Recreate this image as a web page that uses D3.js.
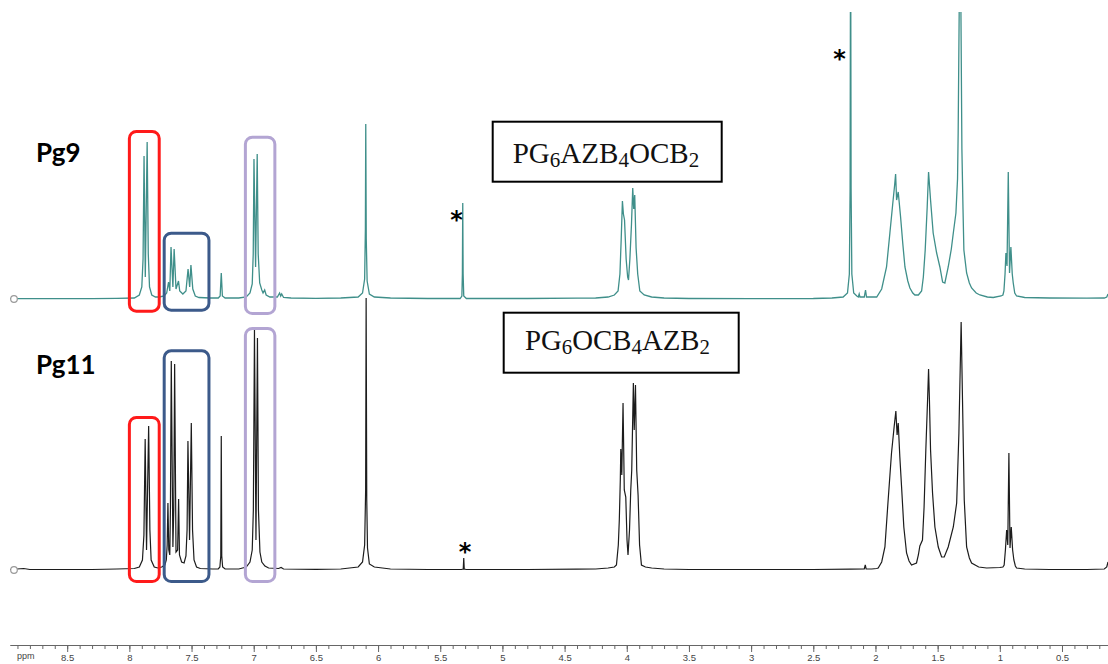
<!DOCTYPE html>
<html><head><meta charset="utf-8">
<script src="https://cdn.jsdelivr.net/npm/d3@7"></script>
<style>html,body{margin:0;padding:0;background:#fff;}svg{display:block;}</style>
</head><body>
<svg id="c" width="1108" height="664"></svg>
<script>
// ---- data (ppm, intensity a.u.) ----
const spectrumLabels = ["Pg9", "Pg11"];
const compoundNames = [
  [["PG", false], ["6", true], ["AZB", false], ["4", true], ["OCB", false], ["2", true]],
  [["PG", false], ["6", true], ["OCB", false], ["4", true], ["AZB", false], ["2", true]]
];
const pg9 = [[8.96,0.3],[8.6,0.3],[8.3,0.4],[8.1,0.6],
[7.96,1],[7.92,4],[7.90,12],[7.89,40],[7.882,143],[7.872,22],[7.857,157],[7.848,45],[7.838,12],[7.82,4],[7.79,2],
[7.76,2],[7.72,3],[7.70,6],[7.685,17],[7.675,8],[7.665,52],[7.65,12],[7.64,50],[7.625,10],[7.605,18],[7.595,8],[7.57,5],[7.545,8],[7.528,30],[7.515,12],[7.505,34],[7.49,10],[7.47,3],[7.44,1.5],[7.35,1],
[7.285,1],[7.27,3],[7.261,26],[7.252,3],[7.23,1],
[7.12,1],[7.06,2],[7.03,6],[7.012,15],[7.004,45],[6.998,140],[6.985,32],[6.972,145],[6.964,45],[6.952,16],[6.935,9],[6.925,6],[6.912,9],[6.90,4],[6.87,2],[6.81,2],[6.792,6],[6.783,3],[6.775,5],[6.76,1.5],[6.70,1],[6.5,0.7],[6.3,1],
[6.16,2],[6.125,6],[6.108,20],[6.102,70],[6.099,175],[6.095,60],[6.088,18],[6.07,5],[6.03,2],[5.9,1],[5.6,0.5],
[5.34,0.5],[5.326,3],[5.322,25],[5.319,96],[5.316,25],[5.311,3],[5.29,0.5],[4.8,0.5],[4.4,0.8],
[4.25,1],[4.15,2],[4.10,4],[4.07,8],[4.055,25],[4.045,59],[4.035,98],[4.027,85],[4.018,79],[4.005,40],[3.993,22],[3.986,19],[3.975,40],[3.962,75],[3.952,111],[3.944,90],[3.936,104],[3.925,51],[3.912,25],[3.895,8],[3.86,4],[3.80,2],[3.70,1],[3.5,0.5],[3.0,0.3],[2.5,0.5],[2.35,1],
[2.26,2],[2.225,6],[2.21,25],[2.204,110],[2.200,400],[2.196,110],[2.19,25],[2.175,6],[2.15,3],[2.138,2],[2.131,5],[2.125,2],[2.09,2],[2.08,9],[2.072,2],[2.03,2],
[1.99,2],[1.95,10],[1.911,32],[1.884,66],[1.862,94],[1.845,115],[1.838,125],[1.83,99],[1.817,107],[1.798,82],[1.78,55],[1.763,32],[1.74,18],[1.723,11],[1.70,6],[1.683,4],[1.655,4],[1.629,8],[1.615,22],[1.60,49],[1.584,92],[1.573,127],[1.557,99],[1.536,66],[1.508,46],[1.482,32],[1.46,17],[1.442,16],[1.415,32],[1.39,50],[1.374,66],[1.353,86],[1.340,120],[1.335,166],[1.319,400],[1.305,150],[1.296,90],[1.289,49],[1.267,26],[1.245,16],[1.227,11],[1.19,6],[1.16,4],[1.10,2],[1.053,1.5],[0.99,3],
[0.975,4],[0.967,8],[0.958,25],[0.951,46],[0.942,33],[0.932,127],[0.922,26],[0.911,52],[0.90,25],[0.892,16],[0.88,6],[0.865,3],[0.8,1.5],[0.6,1],[0.3,0.8],[0.16,1],[0.14,2],[0.13,5]];
const pg11 = [[8.96,0.5],[8.85,1.5],[8.8,0.5],[8.6,0.5],[8.3,0.5],[8.1,1],
[7.96,1.5],[7.92,3],[7.895,10],[7.883,35],[7.873,131],[7.862,20],[7.845,144],[7.835,40],[7.825,10],[7.80,3],[7.77,2],
[7.74,3],[7.715,5],[7.703,10],[7.696,25],[7.690,67],[7.683,20],[7.675,15],[7.670,60],[7.663,209],[7.650,23],[7.643,60],[7.636,206],[7.625,18],[7.612,20],[7.604,71],[7.597,15],[7.58,8],[7.56,7],[7.545,14],[7.536,40],[7.529,129],[7.516,30],[7.502,147],[7.492,40],[7.48,10],[7.46,3],[7.43,1.5],[7.33,1],
[7.285,1],[7.272,3],[7.265,14],[7.261,134],[7.257,14],[7.25,3],[7.23,1],
[7.12,1],[7.06,3],[7.03,8],[7.012,20],[7.003,60],[6.994,240],[6.982,30],[6.970,232],[6.962,60],[6.95,18],[6.935,8],[6.91,4],[6.88,2],[6.80,1.5],[6.78,2.5],[6.76,1],[6.5,0.7],[6.3,1],
[6.16,3],[6.125,8],[6.108,25],[6.100,80],[6.096,272],[6.091,70],[6.085,22],[6.07,6],[6.03,3],[5.9,1],[5.6,0.5],
[5.33,0.5],[5.315,1],[5.311,12],[5.307,1],[5.29,0.5],[4.8,0.5],[4.4,0.8],
[4.25,1],[4.15,2],[4.10,3],[4.083,5],[4.068,25],[4.060,50],[4.052,90],[4.048,121],[4.040,95],[4.030,167],[4.020,80],[4.008,73],[3.998,30],[3.99,15],[3.978,40],[3.968,80],[3.960,100],[3.947,187],[3.940,140],[3.930,185],[3.920,100],[3.909,75],[3.897,25],[3.882,5],[3.85,3],[3.80,2],[3.70,1],[3.5,0.5],[3.0,0.5],[2.5,0.5],[2.2,0.8],
[2.09,1],[2.082,5],[2.075,1],[2.03,1],
[1.99,1.5],[1.978,2],[1.95,8],[1.924,23],[1.898,70],[1.871,117],[1.85,143],[1.836,159],[1.826,135],[1.817,147],[1.804,113],[1.79,83],[1.772,43],[1.75,17],[1.73,9],[1.71,5],[1.67,7],[1.655,15],[1.643,24],[1.622,30],[1.609,63],[1.595,120],[1.581,170],[1.573,201],[1.566,170],[1.557,120],[1.541,77],[1.522,43],[1.495,23],[1.468,13],[1.447,13],[1.415,23],[1.374,43],[1.347,67],[1.329,137],[1.311,248],[1.30,170],[1.286,70],[1.267,23],[1.245,12],[1.227,7],[1.17,3],[1.106,2],[1.0,2.5],
[0.975,3],[0.965,5],[0.955,20],[0.945,40],[0.936,25],[0.927,117],[0.918,22],[0.908,43],[0.897,20],[0.887,10],[0.875,4],[0.865,2],[0.8,1],[0.6,0.5],[0.3,0.5],[0.16,1],[0.14,3],[0.13,8]];
// highlighted regions (ppm ranges) per spectrum
const boxRanges = [[8.00, 7.76], [7.72, 7.36], [7.067, 6.83]];
const boxColors = ["#ff1a1a", "#3c5a8a", "#b3a5d3"];
// solvent / impurity marks (ppm)
const starMarks9 = [5.37, 2.29];
const starMarks11 = [5.30];
const majorTicks = d3.range(1, 18).map(i => i * 0.5);
const minorTicks = d3.range(2, 90).map(i => i / 10);

// ---- drawing ----
const svg = d3.select("#c");
const x = d3.scaleLinear().domain([8.96, 0.13]).range([10, 1108]);
const y9 = d3.scaleLinear().domain([0, 287]).range([299, 12]);
const y11 = d3.scaleLinear().domain([0, 287]).range([570, 283]);

svg.append("clipPath").attr("id", "clip").append("rect")
  .attr("x", 10).attr("y", 12).attr("width", 1098).attr("height", 630);

const line9 = d3.line().x(d => x(d[0])).y(d => y9(d[1]));
const line11 = d3.line().x(d => x(d[0])).y(d => y11(d[1]));

const g = svg.append("g").attr("clip-path", "url(#clip)");
g.append("path").datum(pg9).attr("d", line9)
  .attr("fill", "none").attr("stroke", "#3f8f8a").attr("stroke-width", 1.3);
g.append("path").datum(pg11).attr("d", line11)
  .attr("fill", "none").attr("stroke", "#1c1c1c").attr("stroke-width", 1.2);

// baseline start markers
[y9(0), y11(0)].forEach(yy => {
  svg.append("circle").attr("cx", 14).attr("cy", yy).attr("r", 3.3)
    .attr("fill", "#fff").attr("stroke", "#9a9a9a").attr("stroke-width", 1.2);
});

// highlight boxes
const boxY9 = [[131.5, 311.2], [233.2, 310.2], [137.2, 313.5]];
const boxY11 = [[417.5, 581.5], [350.8, 581.5], [328.5, 581.5]];
[boxY9, boxY11].forEach(by => {
  boxRanges.forEach((r, i) => {
    svg.append("rect")
      .attr("x", x(r[0])).attr("y", by[i][0])
      .attr("width", x(r[1]) - x(r[0])).attr("height", by[i][1] - by[i][0])
      .attr("rx", 7).attr("ry", 7)
      .attr("fill", "none").attr("stroke", boxColors[i]).attr("stroke-width", 3);
  });
});

// compound name boxes
const nameBoxes = [{x: 492.7, y: 121.7, w: 229, h: 60, tx: 512.7, tw: 186.5, ty: 163},
                   {x: 503.7, y: 312.7, w: 235, h: 60, tx: 525, tw: 185, ty: 350}];
nameBoxes.forEach((b, k) => {
  svg.append("rect").attr("x", b.x).attr("y", b.y).attr("width", b.w).attr("height", b.h)
    .attr("fill", "#fff").attr("stroke", "#000").attr("stroke-width", 2);
  const t = svg.append("text").attr("x", b.tx).attr("y", b.ty)
    .attr("font-family", "'Liberation Serif', 'DejaVu Serif', serif")
    .attr("font-size", 29).attr("fill", "#111");
  compoundNames[k].forEach(([s, sub], j) => {
    t.append("tspan").text(s)
      .attr("font-size", sub ? 21 : 29)
      .attr("dy", sub ? 4 : (j === 0 ? 0 : -4));
  });
  t.attr("textLength", b.tw).attr("lengthAdjust", "spacingAndGlyphs");
});

// spectrum labels
svg.append("text").attr("x", 36).attr("y", 162).text(spectrumLabels[0])
  .attr("font-family", "Lato, 'Open Sans', sans-serif").attr("font-weight", "bold")
  .attr("font-size", 26).attr("fill", "#000");
svg.append("text").attr("x", 36).attr("y", 374).text(spectrumLabels[1])
  .attr("font-family", "Lato, 'Open Sans', sans-serif").attr("font-weight", "bold")
  .attr("font-size", 26).attr("fill", "#000");

// asterisks
const starStyle = s => s.attr("font-family", "'DejaVu Sans', sans-serif").attr("font-weight", "bold")
  .attr("font-size", 24).attr("text-anchor", "middle").attr("fill", "#000");
starStyle(svg.append("text").attr("x", x(starMarks9[0])).attr("y", 228).text("*"));
starStyle(svg.append("text").attr("x", x(starMarks9[1])).attr("y", 67).text("*"));
starStyle(svg.append("text").attr("x", x(starMarks11[0])).attr("y", 560).text("*"));

// x axis
const axisY = 645;
const minorAxis = d3.axisBottom(x).tickValues(minorTicks).tickSize(4).tickSizeOuter(0).tickFormat("");
const majorAxis = d3.axisBottom(x).tickValues(majorTicks).tickSize(7).tickSizeOuter(0).tickPadding(2)
  .tickFormat(d => String(d));
const ga1 = svg.append("g").attr("transform", `translate(0,${axisY})`).call(minorAxis);
const ga2 = svg.append("g").attr("transform", `translate(0,${axisY})`).call(majorAxis);
[ga1, ga2].forEach(ga => {
  ga.select(".domain").attr("stroke", "#666").attr("stroke-width", 1.2);
  ga.selectAll(".tick line").attr("stroke", "#666");
});
ga2.selectAll(".tick text").attr("font-family", "'Liberation Sans', Arial, sans-serif")
  .attr("font-size", 9.5).attr("fill", "#444");
svg.append("text").attr("x", 17).attr("y", 659).text("ppm")
  .attr("font-family", "'Liberation Sans', Arial, sans-serif").attr("font-size", 9).attr("fill", "#444");
</script>
</body></html>
